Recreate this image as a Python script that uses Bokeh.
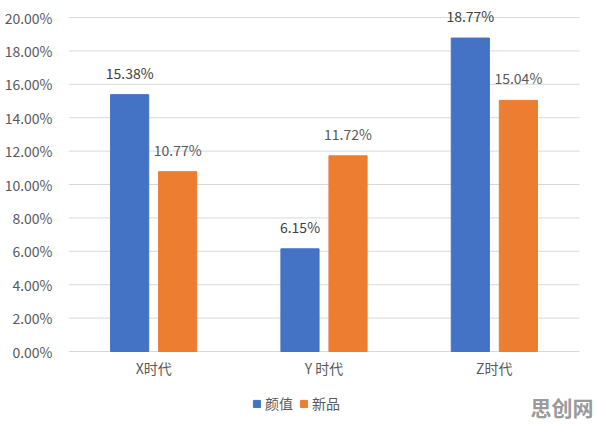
from bokeh.plotting import figure
from bokeh.models import ColumnDataSource, NumeralTickFormatter, Legend, LegendItem, Label, FixedTicker
from bokeh.core.properties import value
from bokeh.embed import file_html
from bokeh.resources import INLINE

categories = ["X时代", "Y 时代", "Z时代"]
series_names = ["颜值", "新品"]
yanzhi = [0.1538, 0.0615, 0.1877]
xinpin = [0.1077, 0.1172, 0.1504]
yticks = [0.0, 0.02, 0.04, 0.06, 0.08, 0.10, 0.12, 0.14, 0.16, 0.18, 0.20]

FONT = "Noto Sans CJK SC"
FS = "14px"
BLUE = "#4472C4"
ORANGE = "#ED7D31"
OFF = 0.141
BW = 0.224

n = len(categories)
centers = [i + 0.5 for i in range(n)]
src = ColumnDataSource(dict(
    cat=categories, xc=centers,
    xa=[c - OFF for c in centers], xb=[c + OFF for c in centers],
    a=yanzhi, b=xinpin, zero=[0.0] * n,
    al=[f"{v*100:.2f}%" for v in yanzhi],
    bl=[f"{v*100:.2f}%" for v in xinpin],
))
grid_src = ColumnDataSource(dict(y=yticks, x0=[0] * len(yticks), x1=[n] * len(yticks)))

plot_w = 596 - 68
cat_w = 511
p = figure(width=596, height=425, x_range=(0, n * plot_w / cat_w), y_range=(-0.0443, 0.2102),
           output_backend="svg", toolbar_location=None, x_axis_location=None,
           min_border_left=68, min_border_right=0, min_border_top=0, min_border_bottom=0)
p.outline_line_color = None
p.background_fill_color = "white"
p.xgrid.grid_line_color = None
p.ygrid.grid_line_color = None

# horizontal grid lines limited to the category area
p.segment(x0="x0", x1="x1", y0="y", y1="y", source=grid_src, line_color="#d9d9d9", line_width=1)

r1 = p.vbar(x="xa", top="a", width=BW, source=src, color=BLUE)
r2 = p.vbar(x="xb", top="b", width=BW, source=src, color=ORANGE)

p.text(x="xa", y="a", text="al", source=src,
       text_align="center", text_baseline="bottom", y_offset=-12,
       text_font=value(FONT), text_font_size=FS, text_color="#404040")
p.text(x="xb", y="b", text="bl", source=src,
       text_align="center", text_baseline="bottom", y_offset=-12,
       text_font=value(FONT), text_font_size=FS, text_color="#595959")

# category labels below the baseline
p.text(x="xc", y="zero", text="cat", source=src, text_align="center", text_baseline="middle",
       y_offset=16, text_font=value(FONT), text_font_size=FS, text_color="#595959")

p.yaxis.ticker = FixedTicker(ticks=yticks)
p.yaxis.formatter = NumeralTickFormatter(format="0.00%")
p.yaxis.axis_line_color = None
p.yaxis.major_tick_line_color = None
p.yaxis.minor_tick_line_color = None
p.yaxis.major_label_text_font = FONT
p.yaxis.major_label_text_font_size = FS
p.yaxis.major_label_text_color = "#595959"
p.yaxis.major_label_standoff = 10

legend = Legend(items=[LegendItem(label=series_names[0], renderers=[r1]),
                       LegendItem(label=series_names[1], renderers=[r2])],
                orientation="horizontal", location=(184, 12), padding=0, margin=0,
                label_text_font=FONT, label_text_font_size=FS, label_text_color="#595959",
                glyph_width=9, glyph_height=9, spacing=6, label_standoff=4,
                border_line_color=None, background_fill_alpha=0)
p.add_layout(legend, "center")

wm = Label(x=462, y=4, x_units="screen", y_units="screen", text="思创网", text_baseline="bottom",
           text_font=FONT, text_font_style="bold", text_font_size="21px", text_color="#9a9a9a")
p.add_layout(wm)

open("out.html", "w").write(file_html(p, INLINE))
